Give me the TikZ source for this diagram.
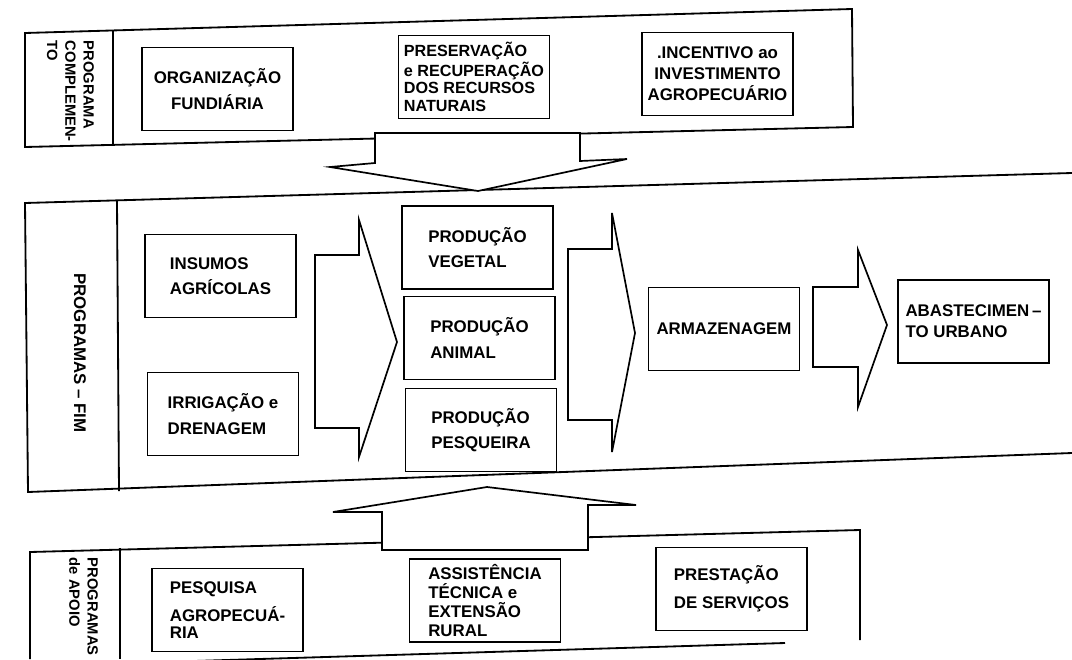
\documentclass[tikz,border=0pt]{standalone}
\usepackage{fontspec}
\setsansfont{Liberation Sans}
\usepackage{tikz}
\usetikzlibrary{calc}
\usetikzlibrary{positioning}
\usetikzlibrary{shapes,arrows}

\begin{document}
\begin{tikzpicture}[x=0.025cm,y=-0.025cm,
	box/.style={draw,line width=1.1pt,minimum width=3.78cm,minimum height=2.08cm,align=left,inner sep=2pt,font=\sffamily\bfseries\fontsize{12}{18}\selectfont},
	band/.style={line width=1.3pt},
	blockarrow/.style={draw,fill=white,line width=1.2pt,line join=miter},
	sidelabel/.style={rotate=-90,align=left,font=\sffamily\bfseries\fontsize{10.5}{13}\selectfont}]
	\clip (0,0) rectangle (1072,659);
	% faixa superior
	\draw[band] (25,33) -- (852,9) -- (853,127) -- (25,147) -- cycle;
	\draw[band] (113,31) -- (113,146);
	\node[sidelabel,anchor=north west] (compl) at (99,36) {PROGRAMA\\COMPLEMEN-\\TO};
	\node[box,align=center] (org) at (217.5,89) {ORGANIZAÇÃO\\FUNDIÁRIA};
	\node[box,font=\sffamily\bfseries\fontsize{11.5}{12.5}\selectfont] (pres) at (474,77) {PRESERVAÇÃO\\e RECUPERAÇÃO\\DOS RECURSOS\\NATURAIS};
	\node[box,align=center,font=\sffamily\bfseries\fontsize{12}{15}\selectfont] (inc) at (717.5,74) {.INCENTIVO ao\\INVESTIMENTO\\AGROPECUÁRIO};
	% faixa central
	\draw[band] (1072,173) -- (25,203) -- (28,492) -- (1072,453);
	\draw[band] (117,201) -- (119,491);
	\node[sidelabel,font=\sffamily\bfseries\fontsize{12}{13}\selectfont] (fim) at (80,353) {PROGRAMAS -- FIM};
	\node[box] (ins) at (220.5,276) {INSUMOS\\AGRÍCOLAS};
	\node[box] (irr) at (223,414) {IRRIGAÇÃO e\\DRENAGEM};
	\node[box] (veg) at (477.5,247.5) {PRODUÇÃO\\VEGETAL};
	\node[box] (ani) at (479.5,338) {PRODUÇÃO\\ANIMAL};
	\node[box] (pes) at (481,430) {PRODUÇÃO\\PESQUEIRA};
	\node[box] (arm) at (724,329) {ARMAZENAGEM};
	\node[box,font=\sffamily\bfseries\fontsize{12}{15}\selectfont] (aba) at (973.5,321.5) {ABASTECIMEN\,--\\TO URBANO};
	% faixa inferior
	\draw[band] (30,659) -- (30,552) -- (860,530) -- (860,640);
	\draw[band] (785,643) -- (30,666);
	\draw[band] (120,548) -- (120,659);
	\node[sidelabel,anchor=north west] (apoio) at (103,553) {PROGRAMAS\\de APOIO};
	\node[box,font=\sffamily\bfseries\fontsize{12}{12.5}\selectfont] (pesq) at (227.5,610) {PESQUISA\\[6pt]AGROPECUÁ-\\RIA};
	\node[box,font=\sffamily\bfseries\fontsize{12}{13.5}\selectfont] (ass) at (485,600.5) {ASSISTÊNCIA\\TÉCNICA e\\EXTENSÃO\\RURAL};
	\node[box,font=\sffamily\bfseries\fontsize{12}{20}\selectfont] (pst) at (731.5,589) {PRESTAÇÃO\\DE SERVIÇOS};
	% setas
	\draw[blockarrow] (375,133) -- (580,133) -- (580,161) -- (627,159) -- (478,191) -- (330,167) -- (375,163) -- cycle;
	\draw[blockarrow] (315,255) -- (359,255) -- (359,220) -- (397,342) -- (359,457) -- (359,428) -- (315,428) -- cycle;
	\draw[blockarrow] (568,249) -- (612,249) -- (612,213) -- (635,333) -- (612,452) -- (612,420) -- (568,420) -- cycle;
	\draw[blockarrow] (813,287) -- (858,287) -- (858,250) -- (887,325) -- (858,407) -- (858,367) -- (813,367) -- cycle;
	\draw[blockarrow] (382,550) -- (382,512) -- (333,512) -- (487,487) -- (636,505) -- (588,505) -- (588,550) -- cycle;
\end{tikzpicture}
\end{document}
